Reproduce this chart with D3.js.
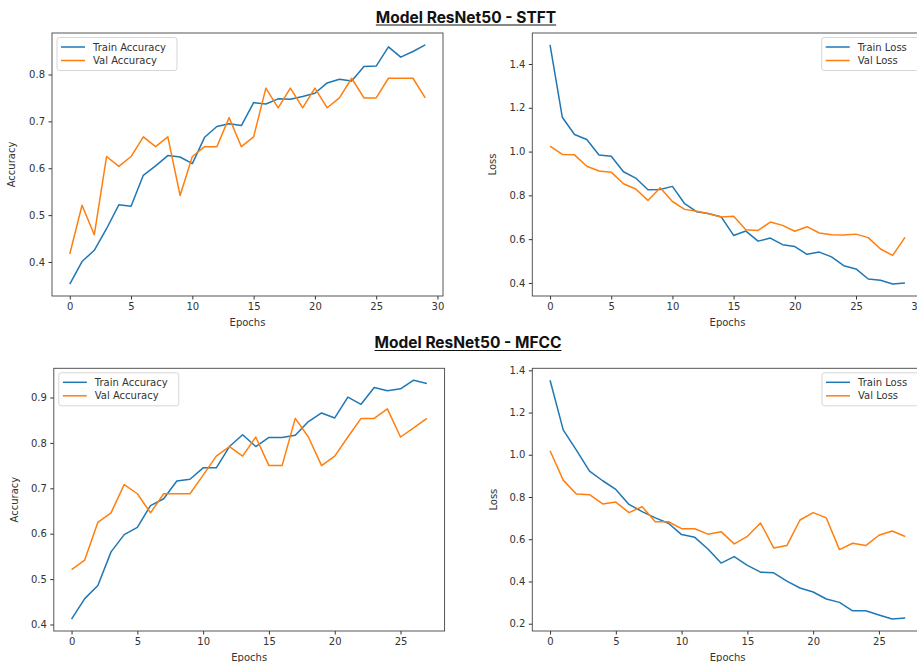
<!DOCTYPE html>
<html>
<head>
<meta charset="utf-8">
<script src="https://cdn.jsdelivr.net/npm/d3@7"></script>
<style>
  body { margin: 0; background: #fff; }
  svg { display: block; }
  .tick text { font-family: "DejaVu Sans", sans-serif; font-size: 10px; fill: #333; }
  .tick line { stroke: #333; }
  .domain { display: none; }
  .lbl { font-family: "DejaVu Sans", sans-serif; font-size: 10px; fill: #333; }
  .leg { font-family: "DejaVu Sans", sans-serif; font-size: 10px; fill: #333; }
  .title { font-family: Inter, "Liberation Sans", sans-serif; font-size: 15.5px; font-weight: 700; fill: #111; }
</style>
</head>
<body>
<svg id="chart" width="917" height="662"></svg>
<script>
// values
var stftTrainAcc = [0.353, 0.401, 0.425, 0.471, 0.522, 0.519, 0.585, 0.605, 0.627, 0.624,
                    0.610, 0.666, 0.689, 0.695, 0.691, 0.740, 0.737, 0.748, 0.747, 0.753,
                    0.760, 0.782, 0.790, 0.786, 0.817, 0.818, 0.859, 0.837, 0.849, 0.863];
var stftValAcc = [0.417, 0.521, 0.458, 0.625, 0.604, 0.625, 0.667, 0.646, 0.667, 0.542,
                  0.625, 0.646, 0.646, 0.708, 0.646, 0.667, 0.771, 0.729, 0.771, 0.729,
                  0.771, 0.729, 0.750, 0.792, 0.750, 0.750, 0.792, 0.792, 0.792, 0.750];
var stftTrainLoss = [1.487, 1.157, 1.078, 1.055, 0.984, 0.979, 0.908, 0.879, 0.826, 0.827,
                     0.841, 0.762, 0.725, 0.716, 0.701, 0.617, 0.637, 0.591, 0.605, 0.575,
                     0.566, 0.531, 0.541, 0.519, 0.479, 0.464, 0.418, 0.412, 0.395, 0.400];
var stftValLoss = [1.025, 0.987, 0.985, 0.933, 0.911, 0.906, 0.853, 0.829, 0.777, 0.835,
                   0.772, 0.736, 0.727, 0.716, 0.701, 0.705, 0.643, 0.640, 0.678, 0.663,
                   0.636, 0.657, 0.628, 0.620, 0.619, 0.623, 0.607, 0.555, 0.526, 0.608];

var mfccTrainAcc = [0.412, 0.457, 0.486, 0.560, 0.598, 0.614, 0.662, 0.677, 0.716, 0.720,
                    0.745, 0.745, 0.792, 0.818, 0.792, 0.812, 0.812, 0.817, 0.847, 0.866,
                    0.855, 0.901, 0.885, 0.922, 0.915, 0.919, 0.938, 0.931];
var mfccValAcc = [0.521, 0.542, 0.625, 0.646, 0.708, 0.688, 0.646, 0.688, 0.688, 0.688,
                  0.729, 0.771, 0.792, 0.771, 0.813, 0.750, 0.750, 0.854, 0.813, 0.750,
                  0.771, 0.813, 0.854, 0.854, 0.875, 0.813, 0.833, 0.854];
var mfccTrainLoss = [1.353, 1.118, 1.022, 0.923, 0.877, 0.836, 0.765, 0.731, 0.701, 0.676,
                     0.622, 0.609, 0.554, 0.487, 0.518, 0.476, 0.444, 0.441, 0.402, 0.369,
                     0.350, 0.317, 0.301, 0.261, 0.261, 0.241, 0.222, 0.227];
var mfccValLoss = [1.019, 0.880, 0.814, 0.811, 0.767, 0.776, 0.726, 0.754, 0.683, 0.683,
                   0.650, 0.650, 0.624, 0.636, 0.578, 0.614, 0.677, 0.559, 0.570, 0.691,
                   0.726, 0.701, 0.551, 0.581, 0.570, 0.619, 0.639, 0.613];

var titles = ['Model ResNet50 - STFT', 'Model ResNet50 - MFCC'];
var accLegend = ['Train Accuracy', 'Val Accuracy'];
var lossLegend = ['Train Loss', 'Val Loss'];
var stftAccTicks = [0.4, 0.5, 0.6, 0.7, 0.8];
var stftLossTicks = [0.4, 0.6, 0.8, 1.0, 1.2, 1.4];
var mfccAccTicks = [0.4, 0.5, 0.6, 0.7, 0.8, 0.9];
var mfccLossTicks = [0.2, 0.4, 0.6, 0.8, 1.0, 1.2, 1.4];
var stftEpochTicks = [0, 5, 10, 15, 20, 25, 30];
var mfccEpochTicks = [0, 5, 10, 15, 20, 25];

var colors = ['#1f77b4', '#ff7f0e'];
var svg = d3.select('#chart');

function drawPanel(box, train, val, yTicks, xTicks, yLabel, legendNames, legendRight, yLabelX)
{
    var n = train.length;
    var xPad = (n - 1) * 0.05;
    var ext = d3.extent(train.concat(val));
    var yPad = (ext[1] - ext[0]) * 0.05;

    var x = d3.scaleLinear().domain([-xPad, n - 1 + xPad]).range([box.left, box.right]);
    var y = d3.scaleLinear().domain([ext[0] - yPad, ext[1] + yPad]).range([box.bottom, box.top]);

    var g = svg.append('g');

    var xAxis = d3.axisBottom(x).tickValues(xTicks).tickSizeOuter(0).tickSize(3.5).tickPadding(3.5)
        .tickFormat(d3.format('d'));
    var yAxis = d3.axisLeft(y).tickValues(yTicks).tickSizeOuter(0).tickSize(3.5).tickPadding(3.5)
        .tickFormat(d3.format('.1f'));

    g.append('g').attr('transform', 'translate(0,' + box.bottom + ')').call(xAxis);
    g.append('g').attr('transform', 'translate(' + box.left + ',0)').call(yAxis);

    var line = d3.line()
        .x(function(d, i) { return x(i); })
        .y(function(d) { return y(d); });

    [train, val].forEach(function(s, k) {
        g.append('path')
            .attr('d', line(s))
            .style('fill', 'none')
            .style('stroke', colors[k])
            .style('stroke-width', 1.5)
            .style('stroke-linejoin', 'round');
    });

    // frame
    g.append('rect')
        .attr('x', box.left).attr('y', box.top)
        .attr('width', box.right - box.left).attr('height', box.bottom - box.top)
        .style('fill', 'none').style('stroke', '#444').style('stroke-width', 0.9);

    g.append('text').attr('class', 'lbl')
        .attr('x', (box.left + box.right) / 2).attr('y', box.bottom + 30)
        .attr('text-anchor', 'middle').text('Epochs');

    g.append('text').attr('class', 'lbl')
        .attr('transform', 'translate(' + yLabelX + ',' + (box.top + box.bottom) / 2 + ') rotate(-90)')
        .attr('text-anchor', 'middle').text(yLabel);

    // legend
    var lw = legendRight ? 97 : 120, lh = 33;
    var lx = legendRight ? box.right - 4 - lw : box.left + 5;
    var ly = box.top + 4.5;
    var leg = g.append('g').attr('transform', 'translate(' + lx + ',' + ly + ')');
    leg.append('rect')
        .attr('width', lw).attr('height', lh).attr('rx', 2.5)
        .style('fill', 'rgba(255,255,255,0.8)').style('stroke', '#d6d6d6');
    legendNames.forEach(function(name, k) {
        var ry = 9.5 + k * 13.5;
        leg.append('line')
            .attr('x1', 4).attr('x2', 28).attr('y1', ry).attr('y2', ry)
            .style('stroke', colors[k]).style('stroke-width', 1.5);
        leg.append('text').attr('class', 'leg')
            .attr('x', 36).attr('y', ry + 3.6).text(name);
    });
}

function drawTitle(text, cx, baseline)
{
    var t = svg.append('text').attr('class', 'title')
        .attr('x', cx).attr('y', baseline).attr('text-anchor', 'middle').text(text);
    var bb = t.node().getBBox();
    svg.append('line')
        .attr('x1', bb.x).attr('x2', bb.x + bb.width)
        .attr('y1', baseline + 2.5).attr('y2', baseline + 2.5)
        .style('stroke', '#111').style('stroke-width', 1.2);
}

drawTitle(titles[0], 466, 22.5);
drawTitle(titles[1], 468, 348);

drawPanel({left: 52, right: 443, top: 33, bottom: 296}, stftTrainAcc, stftValAcc,
          stftAccTicks, stftEpochTicks, 'Accuracy', accLegend, false, 15);
drawPanel({left: 532.3, right: 922.7, top: 33, bottom: 296}, stftTrainLoss, stftValLoss,
          stftLossTicks, stftEpochTicks, 'Loss', lossLegend, true, 496);
drawPanel({left: 53.8, right: 444.6, top: 368.3, bottom: 631}, mfccTrainAcc, mfccValAcc,
          mfccAccTicks, mfccEpochTicks, 'Accuracy', accLegend, false, 18);
drawPanel({left: 532.3, right: 923, top: 368.3, bottom: 631}, mfccTrainLoss, mfccValLoss,
          mfccLossTicks, mfccEpochTicks, 'Loss', lossLegend, true, 496.5);
</script>
</body>
</html>
